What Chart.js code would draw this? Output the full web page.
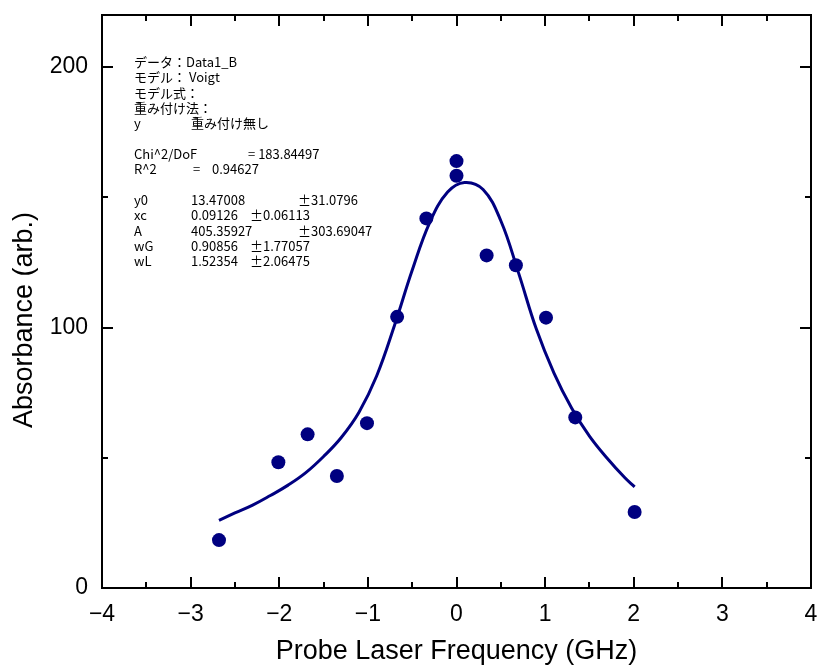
<!DOCTYPE html>
<html>
<head>
<meta charset="utf-8">
<script src="https://cdn.jsdelivr.net/npm/chart.js@4/dist/chart.umd.min.js"></script>
<style>
  html, body { margin: 0; padding: 0; background: #fff; }
  #wrap { width: 818px; height: 666px; }
</style>
</head>
<body>
<div id="wrap"><canvas id="chart" width="818" height="666"></canvas></div>
<script>
// measured points
const freq = [-2.68, -2.01, -1.68, -1.35, -1.01, -0.67, -0.34, 0, 0, 0.34, 0.67, 1.01, 1.34, 2.01];
const absorb = [18.4, 48.3, 59.0, 43.0, 63.3, 104.1, 141.9, 163.9, 158.3, 127.7, 123.9, 103.8, 65.5, 29.2];

// Voigt fit curve
const fitFreq = [-2.68, -2.5, -2.3, -2.1, -1.9, -1.7, -1.5, -1.3, -1.1, -0.9, -0.7, -0.5, -0.3, -0.1, 0.09,
                 0.3, 0.5, 0.7, 0.9, 1.1, 1.3, 1.5, 1.7, 1.9, 2.01];
const fitAbs = [26.0, 28.8, 31.8, 35.5, 39.5, 44.3, 50.5, 57.8, 67.5, 81.5, 100.8, 122, 140.5, 152, 155.7,
                153, 141, 121, 99.5, 82.5, 69, 58.3, 49.8, 42.3, 38.8];

const xTicks = [-4, -3, -2, -1, 0, 1, 2, 3, 4];
const xMinor = [-3.5, -2.5, -1.5, -0.5, 0.5, 1.5, 2.5, 3.5];
const yTicks = [0, 100, 200];
const yMinor = [50, 150];

const xTitle = 'Probe Laser Frequency (GHz)';
const yTitle = 'Absorbance (arb.)';

const report = [
  ['データ：Data1_B'],
  ['モデル： Voigt'],
  ['モデル式：'],
  ['重み付け法：'],
  ['y', '重み付け無し'],
  [],
  ['Chi^2/DoF', '= 183.84497'],
  ['R^2', '=', '0.94627'],
  [],
  ['y0', '13.47008', '±31.0796'],
  ['xc', '0.09126', '±0.06113'],
  ['A', '405.35927', '±303.69047'],
  ['wG', '0.90856', '±1.77057'],
  ['wL', '1.52354', '±2.06475']
];

const navy = '#000080';
const labelFont = '"Liberation Sans", Arial, sans-serif';

const noPad = s => { s.paddingTop = 0; s.paddingBottom = 0; s.paddingLeft = 0; s.paddingRight = 0; };

const framePlugin = {
  id: 'frame',
  afterDraw(chart) {
    const { ctx, chartArea: a, scales: { x, y } } = chart;
    ctx.save();
    ctx.strokeStyle = '#000';
    ctx.lineWidth = 2;
    ctx.strokeRect(a.left, a.top, a.right - a.left, a.bottom - a.top);

    ctx.beginPath();
    const xTick = (v, len) => {
      const p = Math.round(x.getPixelForValue(v));
      ctx.moveTo(p, a.bottom); ctx.lineTo(p, a.bottom - len);
      ctx.moveTo(p, a.top); ctx.lineTo(p, a.top + len);
    };
    const yTick = (v, len) => {
      const p = Math.round(y.getPixelForValue(v));
      ctx.moveTo(a.left, p); ctx.lineTo(a.left + len, p);
      ctx.moveTo(a.right, p); ctx.lineTo(a.right - len, p);
    };
    xTicks.forEach(v => xTick(v, 11));
    xMinor.forEach(v => xTick(v, 6));
    yTicks.forEach(v => yTick(v, 11));
    yMinor.forEach(v => yTick(v, 6));
    ctx.stroke();

    // axis titles
    ctx.fillStyle = '#000';
    ctx.font = '27px ' + labelFont;
    ctx.textAlign = 'center';
    ctx.textBaseline = 'middle';
    ctx.fillText(xTitle, x.getPixelForValue(0), 652);
    ctx.save();
    ctx.translate(25, 320);
    ctx.rotate(-Math.PI / 2);
    ctx.fillText(yTitle, 0, 0);
    ctx.restore();

    // fit report
    ctx.font = '13px "Noto Sans CJK JP", sans-serif';
    ctx.textAlign = 'left';
    const cols = {
      4: [134, 191],
      6: [134, 248],
      7: [134, 193, 212],
      9: [134, 191, 298],
      10: [134, 191, 250],
      11: [134, 191, 298],
      12: [134, 191, 250],
      13: [134, 191, 250]
    };
    report.forEach((row, i) => {
      const xs = cols[i] || [134];
      const ty = 62 + i * 15.35;
      row.forEach((t, j) => ctx.fillText(t, xs[j], ty));
    });
    ctx.restore();
  }
};

new Chart(document.getElementById('chart'), {
  type: 'scatter',
  data: {
    datasets: [
      {
        label: 'data',
        data: freq.map((f, i) => ({ x: f, y: absorb[i] })),
        backgroundColor: navy,
        borderColor: navy,
        pointRadius: 7,
        borderWidth: 0,
        order: 0
      },
      {
        label: 'fit',
        data: fitFreq.map((f, i) => ({ x: f, y: fitAbs[i] })),
        showLine: true,
        borderColor: navy,
        borderWidth: 3,
        pointRadius: 0,
        tension: 0.4,
        order: 1
      }
    ]
  },
  options: {
    responsive: false,
    animation: false,
    layout: { padding: { top: 15, right: 4, left: 0, bottom: 0 } },
    plugins: { legend: { display: false }, tooltip: { enabled: false } },
    scales: {
      x: {
        type: 'linear',
        min: -4,
        max: 4,
        afterBuildTicks: s => { s.ticks = xTicks.map(v => ({ value: v })); },
        afterFit: s => { s.height = 78; noPad(s); },
        grid: { display: false },
        border: { display: false },
        ticks: {
          color: '#000',
          padding: 5,
          maxRotation: 0,
          font: { family: labelFont, size: 23 },
          callback: v => String(v).replace('-', '\u2212')
        }
      },
      y: {
        type: 'linear',
        min: 0,
        max: 220,
        afterBuildTicks: s => { s.ticks = yTicks.map(v => ({ value: v })); },
        afterFit: s => { s.width = 102; noPad(s); },
        grid: { display: false },
        border: { display: false },
        ticks: {
          color: '#000',
          padding: 6,
          font: { family: labelFont, size: 23 }
        }
      }
    }
  },
  plugins: [framePlugin]
});
</script>
</body>
</html>
